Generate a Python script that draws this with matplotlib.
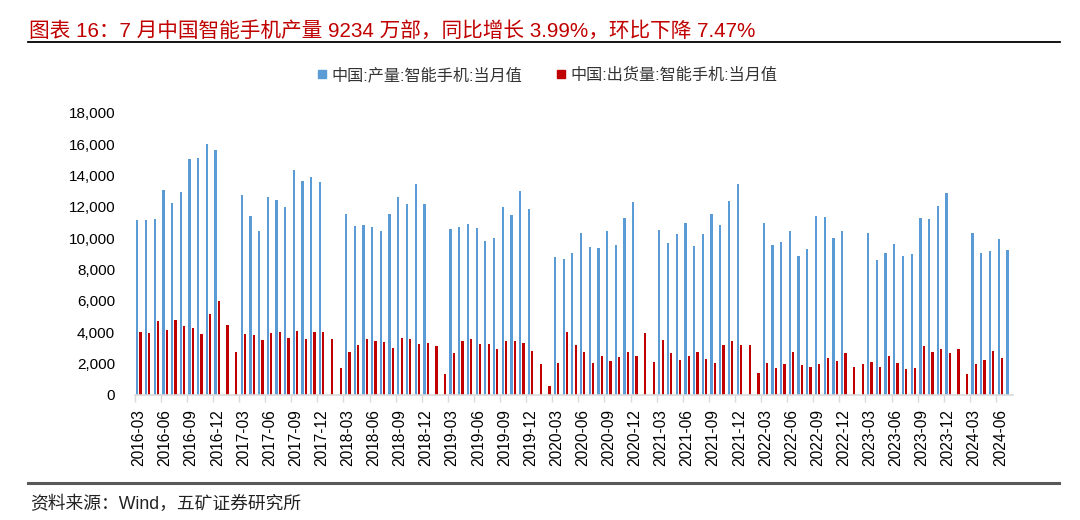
import numpy as np
import pandas as pd
import matplotlib
matplotlib.use("Agg")
import matplotlib.pyplot as plt
from matplotlib.lines import Line2D

plt.rcParams['font.family'] = ['Liberation Sans', 'Noto Sans CJK SC', 'DejaVu Sans']

nan = np.nan
# Monthly categories 2016-03 .. 2024-07
months = [p.strftime('%Y-%m') for p in pd.period_range('2016-03', '2024-07', freq='M')]

# 中国:产量:智能手机:当月值 (万部)
production = [
    11165, 11165, 11230, 13100, 12230, 12930, 15040, 15140, 16010, 15630,
    nan, nan, 12760, 11400, 10460, 12650, 12440, 11990, 14350, 13650, 13910, 13590,
    nan, nan, 11560, 10780, 10850, 10740, 10460, 11550, 12650, 12200, 13480, 12165,
    nan, nan, 10570, 10740, 10890, 10630, 9845, 10015, 11990, 11500, 12990, 11850,
    nan, nan, 8800, 8655, 9040, 10355, 9420, 9360, 10460, 9590, 11290, 12330,
    nan, nan, 10525, 9700, 10250, 10950, 9485, 10250, 11570, 10850, 12400, 13480,
    nan, nan, 10950, 9590, 9740, 10460, 8870, 9315, 11440, 11335, 10015, 10460,
    nan, nan, 10355, 8590, 9080, 9630, 8880, 8975, 11270, 11230, 12060, 12865,
    nan, nan, 10355, 9040, 9190, 9980, 9234,
]

# 中国:出货量:智能手机:当月值 (万部)
shipments = [
    4000, 3935, 4700, 4150, 4800, 4420, 4250, 3870, 5150, 6020,
    4470, 2720, 3870, 3830, 3510, 3935, 4040, 3660, 4080, 3550, 4000, 4000,
    3590, 1720, 2765, 3210, 3550, 3425, 3380, 3000, 3660, 3590, 3250, 3320,
    3145, 1340, 2660, 3425, 3590, 3250, 3250, 2935, 3425, 3425, 3320, 2830,
    2000, 575, 2060, 4040, 3210, 2720, 2060, 2490, 2170, 2445, 2720, 2490,
    3935, 2125, 3490, 2660, 2230, 2490, 2720, 2275, 2060, 3210, 3425, 3210,
    3210, 1405, 2060, 1720, 2000, 2720, 1890, 1785, 1960, 2340, 2170, 2660,
    1785, 2000, 2100, 1785, 2490, 2060, 1680, 1720, 3145, 2765, 2935, 2660,
    2935, 1340, 2000, 2230, 2830, 2340, nan,
]

series_names = ['中国:产量:智能手机:当月值', '中国:出货量:智能手机:当月值']
series_colors = ['#5B9BD5', '#C00000']
y_ticks = [0, 2000, 4000, 6000, 8000, 10000, 12000, 14000, 16000, 18000]

title_text = '图表 16：7 月中国智能手机产量 9234 万部，同比增长 3.99%，环比下降 7.47%'
source_text = '资料来源：Wind，五矿证券研究所'

W, H = 1080, 520
fig = plt.figure(figsize=(W / 100, H / 100), dpi=100)

def fx(px):
    return px / W

def fy(py):
    return 1 - py / H

ax_left, ax_right = 134.6, 1013.4
ax_top, ax_bot = 113.0, 395.0
ax = fig.add_axes([fx(ax_left), fy(ax_bot), fx(ax_right - ax_left), (ax_bot - ax_top) / H])

x = np.arange(len(months))
bw = 0.26
off = 0.19
b1 = ax.bar(x - off, production, width=bw, color=series_colors[0], label=series_names[0])
b2 = ax.bar(x + off, shipments, width=bw, color=series_colors[1], label=series_names[1])

ax.set_xlim(-0.5, len(months) - 0.5)
ax.set_ylim(0, 18000)
ax.set_yticks(y_ticks)
ax.set_yticklabels([f'{v:,}' for v in y_ticks], fontsize=11, color='#000000')
ax.tick_params(axis='y', length=0, pad=14)

# major ticks at category boundaries every 3 months (unlabeled), labels at centers
label_idx = list(range(0, len(months), 3))
ax.set_xticks([i - 0.5 for i in label_idx])
ax.set_xticklabels([])
ax.tick_params(axis='x', which='major', length=5, color='#D9D9D9', width=1)
ax.set_xticks(label_idx, minor=True)
ax.set_xticklabels([months[i] for i in label_idx], minor=True, rotation=90,
                   fontsize=11.2, color='#000000')
ax.tick_params(axis='x', which='minor', length=0, pad=10)

for s in ['top', 'right', 'left']:
    ax.spines[s].set_visible(False)
ax.spines['bottom'].set_color('#D9D9D9')
ax.spines['bottom'].set_linewidth(1.2)
ax.set_facecolor('none')

# legend with square markers
handles = [Line2D([], [], marker='s', linestyle='none', markersize=5.2,
                  markerfacecolor=c, markeredgecolor=c) for c in series_colors]
fig.legend(handles=handles, labels=series_names, loc='center',
           bbox_to_anchor=(fx(548), fy(75)),
           ncol=2, frameon=False, fontsize=11.6, handlelength=0.45,
           handletextpad=0.35, columnspacing=2.2, labelcolor='#333333')

# title and rules
fig.text(fx(29), fy(31), title_text, color='#C00000', fontsize=14.9,
         ha='left', va='center')
fig.add_artist(Line2D([fx(28), fx(1060)], [fy(41.7), fy(41.7)],
                      transform=fig.transFigure, color='#000000', linewidth=1.3))
fig.add_artist(Line2D([fx(28), fx(1059)], [fy(482.7), fy(482.7)],
                      transform=fig.transFigure, color='#595959', linewidth=2.2))
fig.text(fx(30), fy(504), source_text, color='#222222', fontsize=12.8,
         ha='left', va='center')

fig.savefig('out.png', dpi=100)
